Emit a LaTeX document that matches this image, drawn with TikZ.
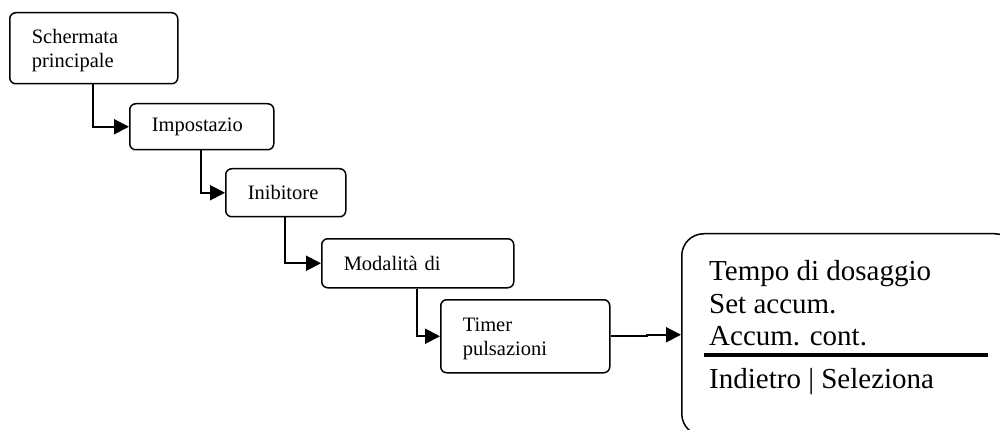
\documentclass[tikz,border=0pt]{standalone}
\usepackage{fontspec}
\setmainfont{Liberation Serif}
\usetikzlibrary{arrows.meta,calc}
\begin{document}
\begin{tikzpicture}[x=1pt,y=-1pt,
  menubox/.style={draw,line width=1.5pt,rounded corners=6pt,inner xsep=22pt,inner ysep=0pt,
    align=left,anchor=north west,font=\fontsize{20.5}{23.5}\selectfont},
  conn/.style={line width=2pt,-{Triangle[length=15pt,width=15pt]}},
  bigtext/.style={anchor=base west,inner sep=0pt,font=\fontsize{29}{32}\selectfont}]
\useasboundingbox (0,0) rectangle (1000,430);
\node[menubox,minimum width=168pt,minimum height=71pt,text width=124pt] (b1) at (9,12) {\rule{0pt}{19pt}Schermata\\principale};
\node[menubox,minimum width=144pt,minimum height=46pt,text width=100pt] (b2) at (129,103) {Impostazio};
\node[menubox,minimum width=120pt,minimum height=48pt,text width=76pt] (b3) at (225,168) {Inibitore};
\node[menubox,minimum width=192pt,minimum height=49pt,text width=148pt] (b4) at (321,238) {Modalità di};
\node[menubox,minimum width=169pt,minimum height=73pt,text width=125pt] (b5) at (440,299) {\rule{0pt}{19pt}Timer\\pulsazioni};
\node[draw,line width=1.5pt,rounded corners=22pt,minimum width=335pt,minimum height=202pt,anchor=north west,inner sep=0pt] (screen) at (681,233) {};
\node[bigtext] (l1) at (709,280) {Tempo di dosaggio};
\node[bigtext] (l2) at (709,313) {Set accum.};
\node[bigtext] (l3) at (709,345) {Accum. cont.};
\node[bigtext] (l4) at (709,388) {Indietro | Seleziona};
\coordinate (ruleL) at (704,355);
\coordinate (ruleR) at (988,355);
\draw[line width=3.5pt] (ruleL) -- (ruleR);
\draw[conn] ([xshift=84pt]b1.south west) |- (b2.west);
\draw[conn] ([xshift=72pt]b2.south west) |- (b3.west);
\draw[conn] ([xshift=60pt]b3.south west) |- (b4.west);
\draw[conn] ([xshift=96pt]b4.south west) |- (b5.west);
\draw[conn] (b5.east) -- ++(36pt,0) |- (screen.west);
\end{tikzpicture}
\end{document}
